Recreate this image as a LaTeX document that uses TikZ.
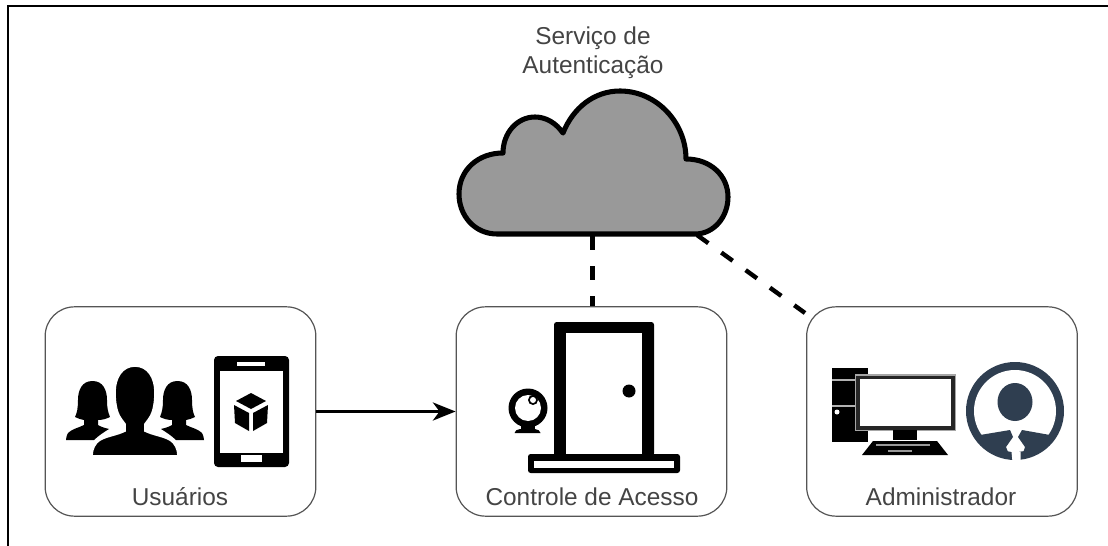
\documentclass[tikz,border=0pt]{standalone}
\usepackage{fontspec}
\setmainfont{Liberation Sans}
\usetikzlibrary{arrows.meta}
\definecolor{slate}{HTML}{2F3E50}
\definecolor{labelgray}{HTML}{444444}
\definecolor{boxgray}{HTML}{555555}
\definecolor{cloudgray}{HTML}{999999}
\tikzset{
  box/.style={draw=boxgray,line width=0.9pt,rounded corners=22pt,fill=white,minimum width=203pt,minimum height=157pt,inner sep=0pt},
  lbl/.style={text=labelgray,font=\fontsize{18.3pt}{22pt}\selectfont,inner sep=0pt,align=center},
  dashlink/.style={line width=3.3pt,dash pattern=on 10.5pt off 12pt},
  flow/.style={line width=2.6pt,-{Stealth[length=17pt,width=13.5pt,inset=5pt]}},
  frameline/.style={line width=1.2pt,black}
}
\begin{document}
\begin{tikzpicture}[x=0.75pt,y=-0.75pt]
\useasboundingbox (0,0) rectangle (1108,546);
\fill[white] (0,0) rectangle (1108,546);
% frame
\draw[frameline] (8,546) -- (8,6) -- (1108,6);
% boxes
\node[box] (users) at (180.5,411.5) {};
\node[box] (access) at (591.5,411.5) {};
\node[box] (admin) at (942,411.5) {};
% cloud
\draw[fill=cloudgray,draw=black,line width=3.8pt,line join=round]
  (497,234) .. controls (475,234) and (459,216) .. (459,194)
  .. controls (459,170) and (478,153) .. (503,153)
  .. controls (503,133) and (517,117) .. (535,117)
  .. controls (546,117) and (556,123) .. (563,133)
  .. controls (573,108) and (594,91) .. (620,91)
  .. controls (657,91) and (686,123) .. (686,159)
  .. controls (711,159) and (728,176) .. (728,197)
  .. controls (728,217) and (714,234) .. (695,234) -- cycle;
\coordinate (cloudbottom) at (592.5,236);
\coordinate (cloudright) at (697,235);
\coordinate (adminport) at (805,313);
% connectors
\draw[dashlink] (cloudbottom) -- (cloudbottom |- access.north);
\draw[dashlink] (cloudright) -- (adminport);
\draw[flow] (users.east) -- (access.west);
% labels
\node[lbl] (tusers) at (180,497) {Usuários};
\node[lbl] (taccess) at (592,497) {Controle de Acesso};
\node[lbl] (tadmin) at (941,497) {Administrador};
\node[lbl] (tcloud1) at (593,38) {Serviço de};
\node[lbl] (tcloud2) at (593,67) {Autenticação};
% side people
\foreach \mx/\off in {1/0,-1/270}{
 \begin{scope}[xshift=\off*0.75pt,x={(\mx*0.75pt,0)}]
 \fill[black] (92.5,381) .. controls (82,381) and (78,390) .. (78,400)
   .. controls (78,408) and (77,413) .. (75,417)
   .. controls (78,419) and (81,419) .. (84,420) -- (84,425)
   .. controls (78,428) and (72,429) .. (68,433)
   .. controls (67,435) and (66,437) .. (66,440) -- (94,440)
   .. controls (98,436) and (104,432) .. (109,429)
   .. controls (105,428) and (101,427) .. (98,425) -- (98,420)
   .. controls (102,420) and (106,419) .. (110,417)
   .. controls (108,412) and (107,408) .. (107,400)
   .. controls (107,390) and (103,381) .. (92.5,381) -- cycle;
 \end{scope}
}
% centre person
\draw[fill=black,draw=white,line width=1.2pt]
  (135,366) .. controls (122,366) and (115,378) .. (115,392)
  .. controls (115,400) and (116,408) .. (118,413)
  .. controls (120,418) and (123,421) .. (125,424) -- (125,431)
  .. controls (117,435) and (107,436) .. (100,440)
  .. controls (95,443) and (92,449) .. (92,456) -- (178,456)
  .. controls (178,449) and (175,443) .. (170,440)
  .. controls (163,436) and (153,435) .. (145,431) -- (145,424)
  .. controls (147,421) and (150,418) .. (152,413)
  .. controls (154,408) and (155,400) .. (155,392)
  .. controls (155,378) and (148,366) .. (135,366) -- cycle;
% phone
\fill[black,rounded corners=3pt] (214,356) rectangle (289,467);
\fill[white] (220,371) rectangle (283,453);
\fill[white] (237,362) rectangle (265,366);
\fill[white] (241,455) rectangle (262,462);
\fill[black,line join=round] (251,393) -- (266,401) -- (251,409) -- (236,401) -- cycle;
\fill[black] (234,405) -- (249,413) -- (249,431) -- (235,423) -- cycle;
\fill[black] (268,405) -- (253,413) -- (253,431) -- (267,423) -- cycle;
% door
\fill[black,rounded corners=2pt] (554,322) rectangle (654,456);
\fill[white] (566,333) rectangle (642,454);
\fill[black,rounded corners=2pt] (528,454) rectangle (680,473);
\fill[white] (534,461) rectangle (674,468);
\fill[black] (629,391) circle (6.5);
% webcam
\fill[black] (528,408) circle (19.5);
\fill[white] (528,408) circle (13);
\fill[black] (533,400) circle (5);
\fill[white] (533,400) circle (3);
\fill[black] (521,426) rectangle (535,430);
\fill[black] (514.5,433) .. controls (515,431) and (517,429) .. (520,429) -- (535,429) .. controls (538,429) and (540,431) .. (540.5,433) -- cycle;
% computer
\fill[black] (832,368) rectangle (868,442);
\fill[white!70!black] (832,379) rectangle (856,381);
\fill[white!70!black] (832,404.5) rectangle (856,406.5);
\fill[white] (837,412) circle (2.5);
\fill[white!65!black] (854.5,374) rectangle (956,431);
\fill[black!85] (856,375.5) rectangle (954.5,429.5);
\fill[white] (860,379) rectangle (950.5,426);
\fill[black] (893,430) rectangle (917,440);
\fill[black] (873,441) -- (937,441) -- (948,455) -- (862,455) -- cycle;
\draw[white!60!black,line width=0.8pt] (876,445) -- (930,445);
\draw[white!60!black,line width=1.6pt] (888,451) -- (912,451);
% administrator
\fill[slate] (1015,411) circle (49);
\fill[white] (1015,411) circle (41);
\fill[slate] (1015,402) ellipse (17.5 and 19);
\begin{scope}
 \clip (1015,411) circle (45);
 \fill[slate] (980,435) -- (1010,430) -- (1013,437) -- (1006,447) -- (1012,462) -- (975,462) -- cycle;
 \fill[slate] (1050,435) -- (1022,430) -- (1018,437) -- (1025,447) -- (1020,462) -- (1055,462) -- cycle;
\end{scope}
\fill[white] (1011.5,452) -- (1020.5,452) -- (1020.5,462) -- (1012.5,462) -- cycle;
\end{tikzpicture}
\end{document}
